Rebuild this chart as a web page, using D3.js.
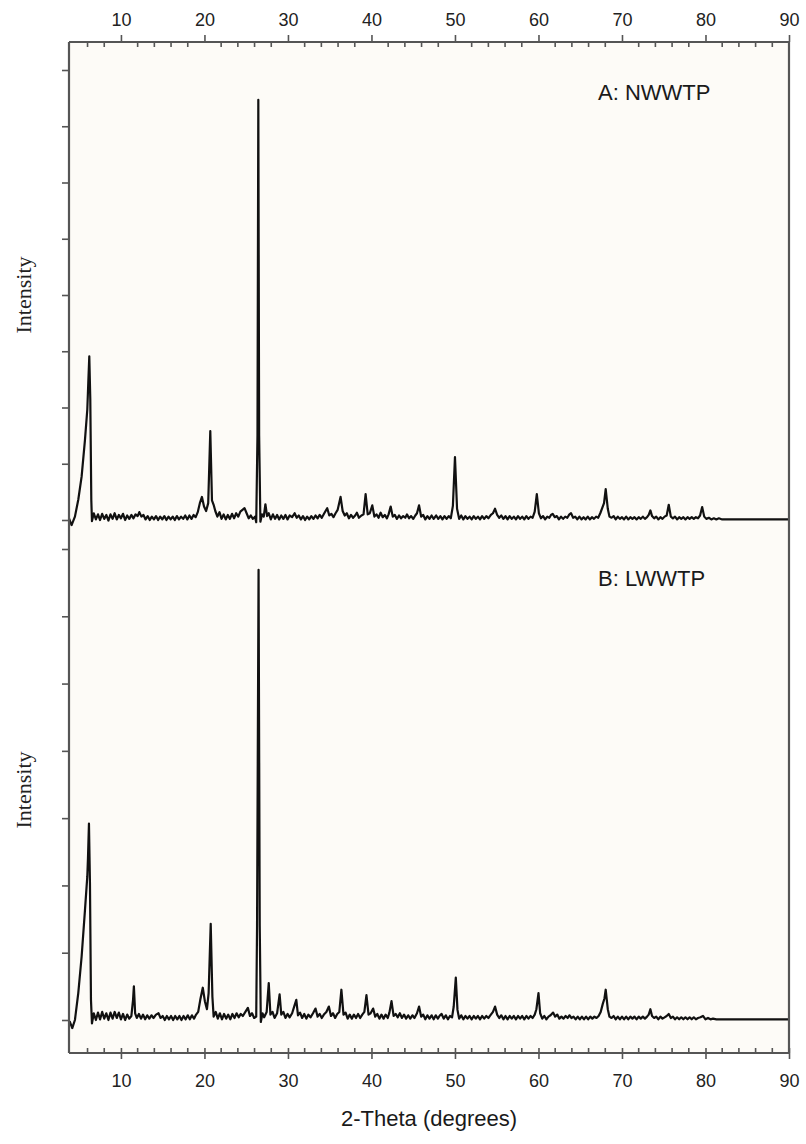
<!DOCTYPE html>
<html><head><meta charset="utf-8">
<script src="https://cdn.jsdelivr.net/npm/d3@7/dist/d3.min.js"></script>
<style>html,body{margin:0;padding:0;background:#fff;}</style>
</head><body>
<svg id="chart" width="806" height="1144"></svg>
<script>
// ---- data ----
const xMajorTicks = [10,20,30,40,50,60,70,80,90];
const xMinorTicks = [6,8,12,14,16,18,22,24,26,28,32,34,36,38,42,44,46,48,52,54,56,58,62,64,66,68,72,74,76,78,82,84,86,88];
const yTicksA = [0,1,2,3,4,5,6,7,8];
const yTicksB = [0,1,2,3,4,5,6,7];
const panelLabels = ["A: NWWTP","B: LWWTP"];
const xTitle = "2-Theta (degrees)";
const yTitle = "Intensity";

const traceA = [
[3.78,0.03],[4.09,-0.09],[4.49,0.06],[4.89,0.36],[5.29,0.77],[5.69,1.42],[5.97,1.96],[6.09,2.44],[6.21,2.91],[6.33,2.14],[6.45,0.36],[6.53,-0.02],
[6.75,0.12],[7.0,0.01],[7.25,0.10],[7.5,0.00],[7.75,0.11],[8.0,0.02],[8.25,0.09],[8.5,-0.01],[8.75,0.10],[9.0,0.02],[9.25,0.12],[9.5,0.01],[9.75,0.09],[10.0,0.03],[10.25,0.11],[10.5,0.00],[10.75,0.08],[11.0,0.02],[11.25,0.09],[11.5,0.03],[11.75,0.10],[12.0,0.07],[12.2,0.14],[12.45,0.06],[12.7,0.09],[12.95,0.01],[13.2,0.07],[13.45,0.00],[13.7,0.06],[13.95,0.01],[14.2,0.07],[14.45,0.00],[14.7,0.06],[14.95,0.01],[15.2,0.07],[15.45,0.00],[15.7,0.06],[15.95,0.01],[16.2,0.06],[16.45,0.00],[16.7,0.07],[16.95,0.01],[17.2,0.06],[17.45,0.02],[17.7,0.08],[17.95,0.01],[18.2,0.08],[18.45,0.02],[18.7,0.09],[18.95,0.05],[19.2,0.14],[19.45,0.30],[19.7,0.41],[19.95,0.24],[20.2,0.16],[20.45,0.30],[20.7,1.58],[20.9,0.35],[21.1,0.27],[21.3,0.16],[21.55,0.06],[21.8,0.14],[22.05,0.02],[22.3,0.10],[22.55,0.01],[22.8,0.09],[23.05,0.02],[23.3,0.11],[23.55,0.03],[23.8,0.12],[24.05,0.06],[24.3,0.15],[24.55,0.18],[24.8,0.21],[25.05,0.12],[25.3,0.03],[25.55,0.08],[25.8,0.02],[26.05,0.06],[26.2,-0.04],[26.35,1.5],[26.45,7.47],[26.55,1.5],[26.7,-0.03],[26.9,0.10],[27.1,0.06],[27.3,0.28],[27.5,0.07],[27.7,0.12],[27.95,0.01],[28.2,0.10],[28.45,0.02],[28.7,0.09],[28.95,0.01],[29.2,0.08],[29.45,0.02],[29.7,0.09],[29.95,0.01],[30.2,0.08],[30.5,0.05],[30.8,0.12],[31.05,0.04],[31.3,0.08],[31.55,0.01],[31.8,0.07],[32.05,0.00],[32.3,0.06],[32.55,0.01],[32.8,0.07],[33.05,0.02],[33.3,0.08],[33.55,0.03],[33.8,0.09],[34.05,0.04],[34.35,0.12],[34.7,0.21],[34.95,0.08],[35.2,0.11],[35.45,0.05],[35.7,0.12],[35.95,0.18],[36.3,0.41],[36.55,0.16],[36.8,0.08],[37.05,0.12],[37.3,0.03],[37.55,0.09],[37.8,0.04],[38.05,0.08],[38.25,0.13],[38.5,0.04],[38.8,0.08],[39.05,0.10],[39.3,0.46],[39.55,0.10],[39.8,0.12],[40.1,0.26],[40.35,0.06],[40.6,0.10],[40.85,0.04],[41.1,0.13],[41.35,0.05],[41.6,0.09],[41.85,0.03],[42.05,0.10],[42.3,0.24],[42.55,0.06],[42.8,0.09],[43.05,0.02],[43.3,0.08],[43.55,0.03],[43.8,0.07],[44.05,0.04],[44.25,0.10],[44.5,0.03],[44.75,0.07],[45.0,0.02],[45.25,0.08],[45.45,0.12],[45.7,0.26],[45.95,0.06],[46.2,0.09],[46.45,0.01],[46.7,0.07],[46.95,0.02],[47.2,0.08],[47.45,0.02],[47.75,0.08],[48.0,0.02],[48.25,0.07],[48.5,0.01],[48.75,0.07],[49.0,0.02],[49.25,0.07],[49.5,0.03],[49.75,0.25],[50.0,1.12],[50.25,0.20],[50.5,0.02],[50.75,0.08],[51.0,0.01],[51.25,0.07],[51.5,0.02],[51.75,0.06],[52.0,0.01],[52.25,0.07],[52.5,0.02],[52.75,0.06],[53.0,0.01],[53.25,0.07],[53.5,0.02],[53.75,0.07],[54.0,0.03],[54.3,0.09],[54.55,0.12],[54.8,0.20],[55.05,0.09],[55.3,0.04],[55.55,0.08],[55.8,0.02],[56.05,0.07],[56.3,0.01],[56.55,0.07],[56.8,0.02],[57.05,0.06],[57.3,0.01],[57.55,0.07],[57.8,0.02],[58.05,0.06],[58.3,0.01],[58.55,0.07],[58.8,0.02],[59.05,0.06],[59.3,0.04],[59.55,0.15],[59.8,0.46],[60.05,0.12],[60.3,0.03],[60.55,0.07],[60.8,0.01],[61.05,0.06],[61.3,0.04],[61.5,0.09],[61.7,0.11],[61.95,0.05],[62.2,0.07],[62.45,0.01],[62.7,0.06],[62.95,0.02],[63.2,0.06],[63.45,0.04],[63.7,0.10],[63.9,0.12],[64.15,0.04],[64.4,0.06],[64.65,0.01],[64.9,0.06],[65.15,0.01],[65.4,0.05],[65.65,0.01],[65.9,0.06],[66.15,0.01],[66.4,0.05],[66.65,0.02],[66.9,0.06],[67.15,0.04],[67.4,0.12],[67.65,0.22],[67.85,0.30],[68.05,0.55],[68.3,0.20],[68.5,0.06],[68.75,0.04],[69.0,0.07],[69.25,0.01],[69.5,0.06],[69.75,0.02],[70.0,0.05],[70.25,0.01],[70.5,0.06],[70.75,0.01],[71.0,0.05],[71.25,0.02],[71.5,0.05],[71.75,0.01],[72.0,0.05],[72.25,0.02],[72.5,0.06],[72.75,0.02],[73.0,0.05],[73.2,0.09],[73.4,0.17],[73.6,0.07],[73.85,0.03],[74.1,0.06],[74.35,0.01],[74.6,0.05],[74.85,0.02],[75.1,0.06],[75.35,0.08],[75.6,0.27],[75.85,0.06],[76.1,0.03],[76.35,0.06],[76.6,0.01],[76.85,0.05],[77.1,0.02],[77.35,0.05],[77.6,0.01],[77.85,0.05],[78.1,0.02],[78.35,0.05],[78.6,0.02],[78.85,0.05],[79.1,0.03],[79.35,0.08],[79.6,0.23],[79.85,0.06],[80.1,0.02],[80.4,0.04],[80.7,0.01],[81.0,0.03],[81.3,0.01],[81.6,0.03],[82.0,0.01],[86,0.01],[90,0.01]
];

const traceB = [
[3.78,-0.02],[3.9,-0.03],[4.17,-0.12],[4.49,0.0],[4.89,0.40],[5.29,0.94],[5.69,1.63],[5.97,2.13],[6.05,2.4],[6.17,2.92],[6.29,2.03],[6.41,0.30],[6.53,-0.05],
[6.75,0.10],[7.0,0.00],[7.25,0.11],[7.5,0.01],[7.75,0.12],[8.0,0.02],[8.25,0.10],[8.5,0.00],[8.75,0.11],[9.0,0.02],[9.25,0.12],[9.5,0.03],[9.75,0.11],[10.0,0.01],[10.25,0.09],[10.5,0.00],[10.75,0.08],[11.0,0.02],[11.25,0.06],[11.45,0.30],[11.55,0.50],[11.7,0.10],[11.9,0.03],[12.15,0.09],[12.4,0.02],[12.65,0.08],[12.9,0.01],[13.15,0.07],[13.4,0.02],[13.65,0.07],[13.9,0.03],[14.2,0.08],[14.5,0.10],[14.75,0.03],[15.0,0.06],[15.25,0.00],[15.5,0.06],[15.75,0.01],[16.0,0.06],[16.25,0.00],[16.5,0.06],[16.75,0.01],[17.0,0.06],[17.25,0.00],[17.5,0.06],[17.75,0.01],[18.0,0.07],[18.25,0.01],[18.5,0.07],[18.75,0.02],[19.0,0.08],[19.25,0.12],[19.5,0.30],[19.8,0.48],[20.05,0.28],[20.3,0.16],[20.5,0.40],[20.75,1.43],[20.95,0.35],[21.1,0.05],[21.35,0.12],[21.6,0.02],[21.85,0.10],[22.1,0.01],[22.35,0.09],[22.6,0.02],[22.85,0.08],[23.1,0.01],[23.35,0.09],[23.6,0.03],[23.85,0.10],[24.1,0.04],[24.35,0.09],[24.6,0.06],[24.9,0.12],[25.2,0.18],[25.45,0.06],[25.7,0.10],[25.95,0.03],[26.2,0.05],[26.3,1.4],[26.48,6.69],[26.62,1.4],[26.75,-0.03],[26.95,0.10],[27.15,0.04],[27.45,0.12],[27.7,0.55],[27.9,0.08],[28.15,0.12],[28.4,0.03],[28.7,0.10],[29.0,0.38],[29.2,0.08],[29.45,0.12],[29.7,0.03],[29.95,0.09],[30.2,0.04],[30.5,0.10],[30.8,0.22],[31.0,0.30],[31.2,0.07],[31.45,0.11],[31.7,0.03],[31.95,0.09],[32.2,0.02],[32.45,0.08],[32.7,0.04],[33.0,0.10],[33.3,0.17],[33.55,0.05],[33.8,0.09],[34.05,0.03],[34.3,0.08],[34.6,0.12],[34.9,0.20],[35.15,0.06],[35.4,0.10],[35.65,0.03],[35.9,0.09],[36.15,0.12],[36.4,0.45],[36.65,0.08],[36.9,0.11],[37.15,0.02],[37.4,0.08],[37.65,0.02],[37.9,0.08],[38.15,0.03],[38.4,0.09],[38.65,0.03],[38.9,0.08],[39.15,0.12],[39.4,0.37],[39.65,0.08],[39.9,0.10],[40.2,0.17],[40.45,0.05],[40.7,0.09],[40.95,0.02],[41.2,0.08],[41.45,0.02],[41.7,0.08],[41.95,0.03],[42.15,0.11],[42.4,0.28],[42.65,0.06],[42.9,0.09],[43.15,0.04],[43.4,0.10],[43.65,0.03],[43.9,0.08],[44.15,0.02],[44.4,0.07],[44.65,0.02],[44.9,0.07],[45.15,0.03],[45.45,0.10],[45.7,0.20],[45.95,0.05],[46.2,0.08],[46.45,0.01],[46.7,0.07],[46.95,0.02],[47.2,0.07],[47.45,0.01],[47.7,0.07],[47.95,0.02],[48.2,0.07],[48.4,0.09],[48.65,0.02],[48.9,0.07],[49.15,0.01],[49.4,0.06],[49.65,0.04],[49.85,0.20],[50.1,0.63],[50.3,0.15],[50.5,0.02],[50.75,0.07],[51.0,0.01],[51.25,0.06],[51.5,0.02],[51.75,0.06],[52.0,0.01],[52.25,0.06],[52.5,0.02],[52.75,0.06],[53.0,0.01],[53.25,0.06],[53.5,0.02],[53.75,0.06],[54.0,0.03],[54.3,0.08],[54.55,0.12],[54.8,0.20],[55.05,0.08],[55.3,0.03],[55.55,0.07],[55.8,0.01],[56.05,0.06],[56.3,0.01],[56.55,0.06],[56.8,0.02],[57.05,0.06],[57.3,0.01],[57.55,0.06],[57.8,0.02],[58.05,0.06],[58.3,0.01],[58.55,0.06],[58.8,0.02],[59.05,0.06],[59.3,0.03],[59.55,0.08],[59.75,0.16],[60.0,0.40],[60.2,0.10],[60.45,0.02],[60.7,0.06],[60.95,0.01],[61.2,0.05],[61.45,0.07],[61.75,0.11],[62.0,0.05],[62.25,0.08],[62.5,0.02],[62.75,0.05],[63.0,0.02],[63.25,0.06],[63.5,0.03],[63.7,0.07],[63.95,0.03],[64.2,0.05],[64.45,0.01],[64.7,0.05],[64.95,0.01],[65.2,0.05],[65.45,0.01],[65.7,0.05],[65.95,0.01],[66.2,0.05],[66.45,0.02],[66.7,0.05],[66.95,0.03],[67.2,0.06],[67.45,0.12],[67.7,0.24],[67.9,0.32],[68.05,0.45],[68.3,0.16],[68.5,0.05],[68.75,0.03],[69.0,0.06],[69.25,0.01],[69.5,0.05],[69.75,0.01],[70.0,0.05],[70.25,0.01],[70.5,0.05],[70.75,0.01],[71.0,0.05],[71.25,0.02],[71.5,0.05],[71.75,0.01],[72.0,0.05],[72.25,0.02],[72.5,0.05],[72.75,0.02],[73.0,0.05],[73.2,0.08],[73.4,0.16],[73.6,0.06],[73.85,0.03],[74.1,0.05],[74.35,0.01],[74.6,0.05],[74.85,0.02],[75.1,0.04],[75.35,0.06],[75.6,0.09],[75.85,0.03],[76.1,0.05],[76.35,0.01],[76.6,0.04],[76.85,0.01],[77.1,0.04],[77.35,0.01],[77.6,0.04],[77.85,0.01],[78.1,0.04],[78.35,0.01],[78.6,0.04],[78.85,0.01],[79.1,0.03],[79.4,0.04],[79.7,0.06],[80.0,0.01],[80.3,0.03],[80.6,0.01],[80.9,0.02],[81.3,0.01],[86,0.01],[90,0.01]
];

// ---- layout ----
const L = 69, R = 789, T = 42, B = 1053;
const svg = d3.select("#chart");
svg.append("rect").attr("x",0).attr("y",0).attr("width",806).attr("height",1144).attr("fill","#ffffff");
svg.append("rect").attr("x",L).attr("y",T).attr("width",R-L).attr("height",B-T).attr("fill","#fdfbf7");

const x = d3.scaleLinear().domain([3.78, 90]).range([L, R]);
const yA = d3.scaleLinear().domain([0, 8]).range([520, 70]);
const yB = d3.scaleLinear().domain([0, 7]).range([1020, 549]);

const axisColor = "#555555";
const fontSans = "Liberation Sans, Arial, Helvetica, sans-serif";

// traces
const lineA = d3.line().x(d => x(d[0])).y(d => yA(d[1]));
const lineB = d3.line().x(d => x(d[0])).y(d => yB(d[1]));
svg.append("path").datum(traceA).attr("d", lineA).attr("fill","none").attr("stroke","#111").attr("stroke-width",2.2).attr("stroke-linejoin","round");
svg.append("path").datum(traceB).attr("d", lineB).attr("fill","none").attr("stroke","#111").attr("stroke-width",2.2).attr("stroke-linejoin","round");

// top axis
const topAxis = d3.axisTop(x).tickValues(xMajorTicks).tickSize(7).tickFormat(d3.format("d"));
const gTop = svg.append("g").attr("transform",`translate(0,${T})`).call(topAxis);
gTop.select(".domain").remove();
gTop.selectAll(".tick line").attr("stroke",axisColor).attr("stroke-width",1.6);
gTop.selectAll(".tick text").attr("font-family",fontSans).attr("font-size",18).attr("fill","#222").attr("dy",0).attr("y",-16);
gTop.selectAll(".minor").data(xMinorTicks).enter().append("line")
  .attr("x1",d=>x(d)).attr("x2",d=>x(d)).attr("y1",0).attr("y2",5)
  .attr("stroke",axisColor).attr("stroke-width",1.6);

// bottom axis
const botAxis = d3.axisBottom(x).tickValues(xMajorTicks).tickSize(6).tickFormat(d3.format("d"));
const gBot = svg.append("g").attr("transform",`translate(0,${B})`).call(botAxis);
gBot.select(".domain").remove();
gBot.selectAll(".tick line").attr("stroke",axisColor).attr("stroke-width",1.6).attr("y1",-5);
gBot.selectAll(".tick text").attr("font-family",fontSans).attr("font-size",18).attr("fill","#222").attr("dy",0).attr("y",34);
gBot.selectAll(".minor").data(xMinorTicks).enter().append("line")
  .attr("x1",d=>x(d)).attr("x2",d=>x(d)).attr("y1",0).attr("y2",-5)
  .attr("stroke",axisColor).attr("stroke-width",1.6);

// left axes (ticks only)
const gLA = svg.append("g").attr("transform",`translate(${L},0)`).call(d3.axisLeft(yA).tickValues(yTicksA).tickSize(7).tickFormat(""));
gLA.select(".domain").remove();
gLA.selectAll(".tick line").attr("stroke",axisColor).attr("stroke-width",1.6);
const gLB = svg.append("g").attr("transform",`translate(${L},0)`).call(d3.axisLeft(yB).tickValues(yTicksB).tickSize(7).tickFormat(""));
gLB.select(".domain").remove();
gLB.selectAll(".tick line").attr("stroke",axisColor).attr("stroke-width",1.6);

// frame
svg.append("line").attr("x1",L).attr("x2",L).attr("y1",T).attr("y2",B).attr("stroke",axisColor).attr("stroke-width",2.2);
svg.append("line").attr("x1",R).attr("x2",R).attr("y1",T).attr("y2",B).attr("stroke",axisColor).attr("stroke-width",2.2);
svg.append("line").attr("x1",L).attr("x2",R).attr("y1",T).attr("y2",T).attr("stroke",axisColor).attr("stroke-width",2.2);
svg.append("line").attr("x1",L).attr("x2",R).attr("y1",B).attr("y2",B).attr("stroke",axisColor).attr("stroke-width",2.2);

// panel labels
svg.append("text").attr("x",598).attr("y",100).attr("font-family",fontSans).attr("font-size",22).attr("fill","#1a1a1a").text(panelLabels[0]);
svg.append("text").attr("x",598).attr("y",586).attr("font-family",fontSans).attr("font-size",22).attr("fill","#1a1a1a").text(panelLabels[1]);

// axis titles
svg.append("text").attr("x",(L+R)/2).attr("y",1126).attr("text-anchor","middle").attr("font-family",fontSans).attr("font-size",22).attr("fill","#1a1a1a").text(xTitle);
[295, 790].forEach(cy => {
  svg.append("text").attr("transform",`translate(31,${cy}) rotate(-90)`).attr("text-anchor","middle")
    .attr("font-family","Liberation Serif, Times New Roman, serif").attr("font-size",22).attr("fill","#222").text(yTitle);
});
</script>
</body></html>
